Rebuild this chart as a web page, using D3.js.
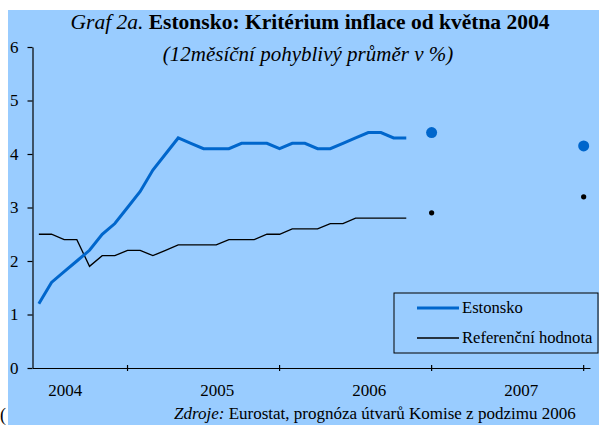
<!DOCTYPE html>
<html>
<head>
<meta charset="utf-8">
<script src="https://cdn.jsdelivr.net/npm/d3@7"></script>
<style>
  body { margin: 0; background: #fff; }
  svg { display: block; font-family: 'Liberation Serif', 'Times New Roman', serif; }
</style>
</head>
<body>
<svg id="chart" width="599" height="425"></svg>
<script>
// monthly values, May 2004 .. Oct 2006
const estonsko = [1.2, 1.6, 1.8, 2.0, 2.2, 2.5, 2.7, 3.0, 3.3, 3.7, 4.0, 4.3,
  4.2, 4.1, 4.1, 4.1, 4.2, 4.2, 4.2, 4.1, 4.2, 4.2, 4.1, 4.1,
  4.2, 4.3, 4.4, 4.4, 4.3, 4.3]
const referencni = [2.5, 2.5, 2.4, 2.4, 1.9, 2.1, 2.1, 2.2, 2.2, 2.1, 2.2, 2.3,
  2.3, 2.3, 2.3, 2.4, 2.4, 2.4, 2.5, 2.5, 2.6, 2.6, 2.6, 2.7,
  2.7, 2.8, 2.8, 2.8, 2.8, 2.8]
// forecasts (Dec 2006, Dec 2007)
const forecastIdx = [31, 43]
const estonskoForecast = [4.4, 4.15]
const referencniForecast = [2.9, 3.2]
const years = ['2004', '2005', '2006', '2007']
const yTicks = [0, 1, 2, 3, 4, 5, 6]
const legendLabels = ['Estonsko', 'Referenční hodnota']

const blue = '#0066cc'
const svg = d3.select('#chart')

// clipped leftover glyph at the bottom left
svg.append('text').attr('x', 0).attr('y', 421)
  .attr('font-size', 18).text('(')

svg.append('rect')
  .attr('x', 8).attr('y', 10)
  .attr('width', 591).attr('height', 415)
  .attr('fill', '#99ccff')

const months = d3.range(44)
const x = d3.scaleBand().domain(months).range([32.5, 590])
const cx = i => x(i) + x.bandwidth() / 2
const y = d3.scaleLinear().domain([0, 6]).range([368, 47])

// title
const title = svg.append('text')
  .attr('x', 310).attr('y', 29)
  .attr('text-anchor', 'middle')
  .attr('font-size', 21.5)
title.append('tspan').attr('font-style', 'italic').text('Graf 2a.  ')
title.append('tspan').attr('font-weight', 'bold').text('Estonsko: Kritérium inflace od května 2004')

svg.append('text')
  .attr('x', 308).attr('y', 61)
  .attr('text-anchor', 'middle')
  .attr('font-size', 21)
  .attr('font-style', 'italic')
  .text('(12měsíční pohyblivý průměr v %)')

// axes
const yAxis = svg.append('g')
  .attr('transform', 'translate(32.5,0)')
  .call(d3.axisLeft(y).tickValues(yTicks).tickFormat(d3.format('d'))
    .tickSize(5).tickSizeOuter(0).tickPadding(9))
yAxis.selectAll('text').attr('font-size', 17).attr('font-family', 'Liberation Serif')

const xAxis = svg.append('g')
  .attr('transform', 'translate(0,368)')
  .call(d3.axisBottom(x).tickValues([7, 19, 31, 43]).tickSizeOuter(0).tickFormat(''))
xAxis.selectAll('.tick line').attr('y1', -3).attr('y2', 3)
svg.selectAll('.domain, .tick line').attr('stroke', '#000').attr('stroke-width', 1.2)

svg.append('g').selectAll('text')
  .data(years)
  .join('text')
  .attr('x', (d, i) => cx(2 + i * 12) + 1)
  .attr('y', 396)
  .attr('text-anchor', 'middle')
  .attr('font-size', 17)
  .text(d => d)

// lines
const line = d3.line().x((d, i) => cx(i)).y(d => y(d))
svg.append('path').datum(referencni)
  .attr('d', line).attr('fill', 'none')
  .attr('stroke', '#000').attr('stroke-width', 1.3)
svg.append('path').datum(estonsko)
  .attr('d', line).attr('fill', 'none')
  .attr('stroke', blue).attr('stroke-width', 3)

// forecast dots
svg.append('g').selectAll('circle')
  .data(estonskoForecast)
  .join('circle')
  .attr('cx', (d, i) => cx(forecastIdx[i]))
  .attr('cy', d => y(d))
  .attr('r', 5.5).attr('fill', blue)
svg.append('g').selectAll('circle')
  .data(referencniForecast)
  .join('circle')
  .attr('cx', (d, i) => cx(forecastIdx[i]))
  .attr('cy', d => y(d))
  .attr('r', 2.6).attr('fill', '#000')

// legend
const legend = svg.append('g')
legend.append('rect')
  .attr('x', 394).attr('y', 293).attr('width', 204).attr('height', 60)
  .attr('fill', 'none').attr('stroke', '#000').attr('stroke-width', 1)
legendLabels.forEach((lbl, i) => {
  const ly = 308 + i * 30
  legend.append('line')
    .attr('x1', 417).attr('x2', 459).attr('y1', ly).attr('y2', ly)
    .attr('stroke', i === 0 ? blue : '#000')
    .attr('stroke-width', i === 0 ? 3 : 1.3)
  legend.append('text')
    .attr('x', 462).attr('y', ly + 5)
    .attr('font-size', 16.6)
    .text(lbl)
})

// source
const src = svg.append('text')
  .attr('x', 174).attr('y', 419)
  .attr('font-size', 17)
src.append('tspan').attr('font-style', 'italic').text('Zdroje:  ')
src.append('tspan').text('Eurostat, prognóza útvarů Komise z podzimu 2006')
</script>
</body>
</html>
